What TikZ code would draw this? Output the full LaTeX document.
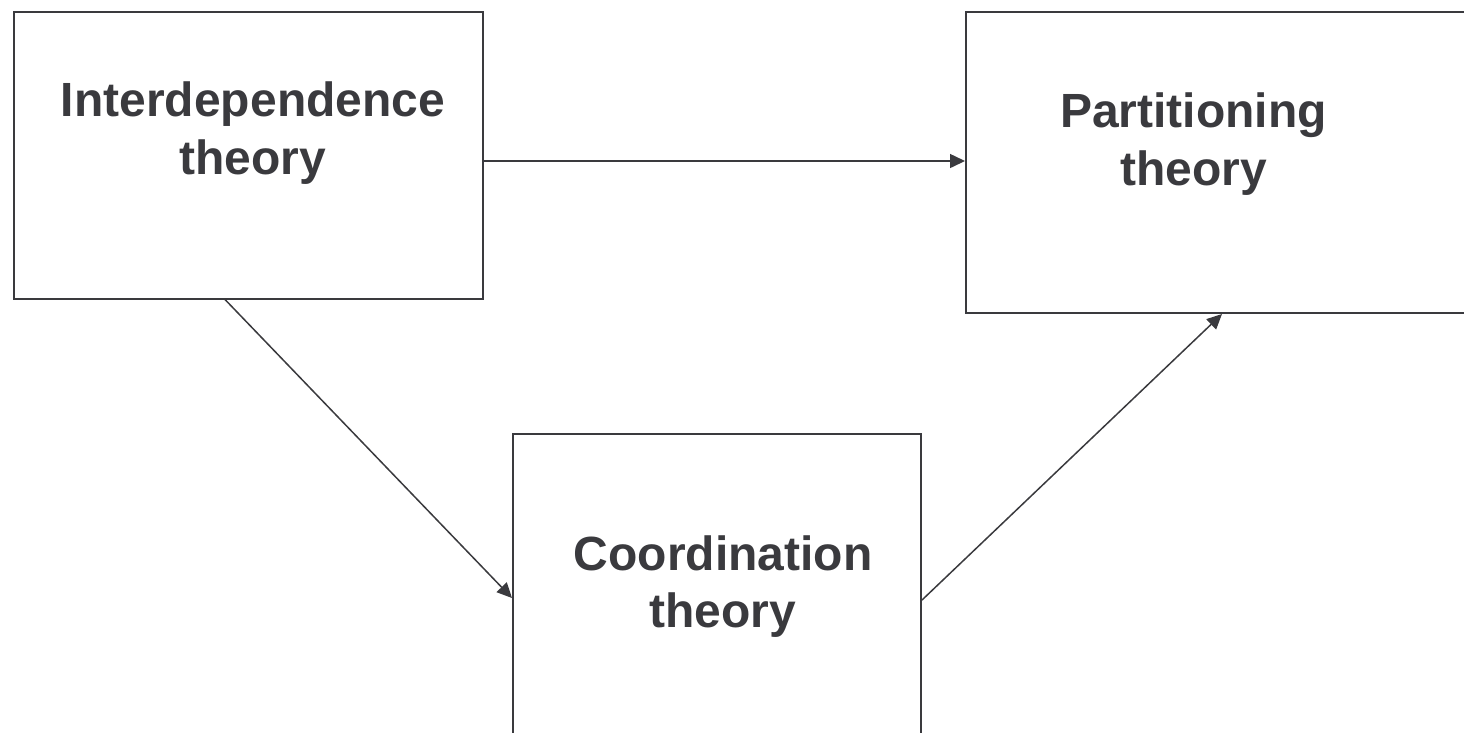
\documentclass[tikz,border=0pt]{standalone}
\usepackage{fontspec}
\setmainfont{Liberation Sans}
\usetikzlibrary{arrows.meta,calc}
\definecolor{ink}{RGB}{58,58,62}
\tikzset{
  box/.style={draw=ink, line width=2pt, rectangle, inner sep=0pt, anchor=north west},
  lbl/.style={text=ink, font=\fontsize{48}{57.5}\selectfont\bfseries, align=center, anchor=base, inner sep=0pt},
  conn/.style={draw=ink, line width=1.5pt, -{Triangle[length=15pt,width=14pt]}}
}
\begin{document}
\begin{tikzpicture}[x=1pt,y=-1pt]
\useasboundingbox (0,0) rectangle (1464,732);
\clip (0,0) rectangle (1464,732);
\node[box, minimum width=469pt, minimum height=287pt] (ib) at (13,10.5) {};
\node[box, minimum width=520pt, minimum height=301.5pt] (pb) at (965,10.5) {};
\node[box, minimum width=408pt, minimum height=350pt] (cb) at (512,433) {};
\node[lbl] (it) at (253,174.2) {Interdependence\\theory};
\node[lbl] (pt) at (1193.5,185.2) {Partitioning\\theory};
\node[lbl] (ct) at (723,627.5) {Coordination\\theory};
\draw[conn] (ib.east |- 0,161) -- (pb.west |- 0,161);
\draw[conn] (ib.south -| 225,0) -- (cb.west |- 0,598);
\draw[conn] (cb.east |- 0,600) -- (pb.south -| 1222,0);
\end{tikzpicture}
\end{document}
